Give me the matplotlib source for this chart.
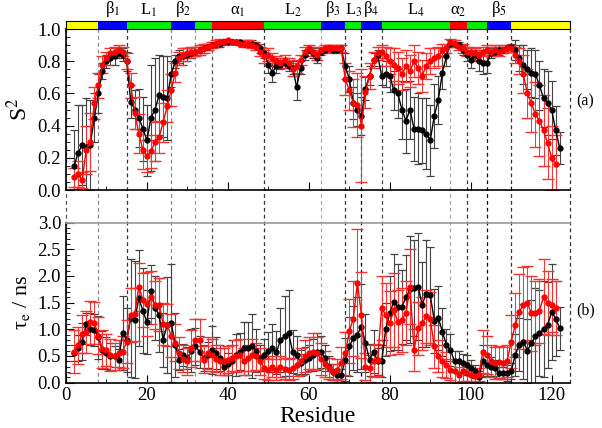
import matplotlib
matplotlib.use("Agg")
import matplotlib.pyplot as plt
import numpy as np
from matplotlib import transforms
from matplotlib.lines import Line2D
from matplotlib.ticker import MultipleLocator, FormatStrFormatter

plt.rcParams['font.family'] = ['Liberation Serif', 'DejaVu Serif']
plt.rcParams['mathtext.fontset'] = 'stix'

# номери залишків
res_black = np.arange(2, 123)
res_red = np.arange(2, 122)

# S^2, чорна серія
s2_black = [0.15, 0.23, 0.28, 0.27, 0.28, 0.45, 0.60, 0.74, 0.80, 0.82,
            0.83, 0.85, 0.84, 0.80, 0.55, 0.50, 0.45, 0.38, 0.31, 0.45,
            0.50, 0.59, 0.58, 0.57, 0.72, 0.80, 0.83, 0.83, 0.84, 0.85,
            0.86, 0.87, 0.88, 0.89, 0.90, 0.91, 0.91, 0.92, 0.92, 0.92,
            0.92, 0.92, 0.91, 0.91, 0.91, 0.90, 0.88, 0.85, 0.78, 0.73,
            0.77, 0.78, 0.79, 0.77, 0.76, 0.64, 0.76, 0.84, 0.87, 0.85,
            0.82, 0.86, 0.87, 0.88, 0.87, 0.87, 0.88, 0.77, 0.69, 0.54,
            0.50, 0.46, 0.63, 0.71, 0.81, 0.84, 0.71, 0.72, 0.71, 0.62,
            0.60, 0.50, 0.43, 0.50, 0.38, 0.38, 0.37, 0.35, 0.31, 0.46,
            0.56, 0.73, 0.83, 0.91, 0.91, 0.90, 0.87, 0.84, 0.81, 0.84,
            0.80, 0.79, 0.79, 0.85, 0.86, 0.87, 0.87, 0.88, 0.89, 0.87,
            0.82, 0.78, 0.75, 0.73, 0.72, 0.65, 0.57, 0.54, 0.50, 0.37,
            0.26]
s2_black_err = [0.22, 0.30, 0.25, 0.30, 0.28, 0.15, 0.12, 0.05, 0.04, 0.04,
                0.05, 0.03, 0.04, 0.06, 0.10, 0.12, 0.18, 0.20, 0.22, 0.33,
                0.32, 0.25, 0.25, 0.26, 0.08, 0.04, 0.04, 0.05, 0.04, 0.03,
                0.03, 0.03, 0.03, 0.02, 0.02, 0.02, 0.02, 0.01, 0.01, 0.01,
                0.01, 0.01, 0.01, 0.02, 0.02, 0.02, 0.03, 0.03, 0.05, 0.06,
                0.04, 0.03, 0.03, 0.03, 0.04, 0.08, 0.04, 0.03, 0.02, 0.03,
                0.03, 0.02, 0.02, 0.02, 0.02, 0.02, 0.02, 0.08, 0.08, 0.10,
                0.10, 0.12, 0.07, 0.06, 0.04, 0.03, 0.06, 0.08, 0.10, 0.12,
                0.15, 0.18, 0.20, 0.18, 0.20, 0.22, 0.20, 0.22, 0.22, 0.20,
                0.15, 0.10, 0.06, 0.02, 0.02, 0.02, 0.03, 0.04, 0.05, 0.04,
                0.06, 0.07, 0.06, 0.03, 0.03, 0.03, 0.02, 0.02, 0.02, 0.06,
                0.08, 0.12, 0.12, 0.15, 0.15, 0.15, 0.18, 0.20, 0.18, 0.15,
                0.10]

# S^2, червона серія
s2_red = [0.08, 0.10, 0.06, 0.25, 0.30, 0.54, 0.65, 0.78, 0.82, 0.85,
          0.86, 0.87, 0.86, 0.80, 0.65, 0.48, 0.35, 0.25, 0.21, 0.24,
          0.30, 0.33, 0.42, 0.52, 0.62, 0.73, 0.82, 0.84, 0.85, 0.86,
          0.86, 0.87, 0.88, 0.89, 0.90, 0.91, 0.92, 0.92, 0.93, 0.92,
          0.92, 0.91, 0.91, 0.91, 0.90, 0.89, 0.86, 0.83, 0.84, 0.82,
          0.80, 0.79, 0.81, 0.79, 0.75, 0.77, 0.81, 0.86, 0.88, 0.86,
          0.84, 0.87, 0.88, 0.88, 0.88, 0.88, 0.88, 0.69, 0.62, 0.54,
          0.53, 0.40, 0.61, 0.71, 0.81, 0.85, 0.86, 0.83, 0.80, 0.78,
          0.76, 0.72, 0.77, 0.74, 0.80, 0.76, 0.71, 0.77, 0.80, 0.82,
          0.83, 0.87, 0.88, 0.92, 0.91, 0.89, 0.88, 0.86, 0.86, 0.85,
          0.84, 0.86, 0.87, 0.86, 0.87, 0.86, 0.87, 0.88, 0.88, 0.84,
          0.80, 0.72, 0.60, 0.54, 0.47, 0.43, 0.37, 0.29, 0.20, 0.16]
s2_red_err = [0.06, 0.08, 0.05, 0.15, 0.18, 0.10, 0.08, 0.05, 0.04, 0.03,
              0.03, 0.03, 0.03, 0.05, 0.08, 0.10, 0.12, 0.12, 0.10, 0.10,
              0.12, 0.10, 0.12, 0.10, 0.10, 0.06, 0.04, 0.04, 0.03, 0.03,
              0.03, 0.03, 0.03, 0.02, 0.02, 0.02, 0.02, 0.01, 0.01, 0.01,
              0.01, 0.01, 0.02, 0.02, 0.02, 0.02, 0.03, 0.04, 0.04, 0.03,
              0.03, 0.03, 0.03, 0.03, 0.04, 0.04, 0.03, 0.03, 0.02, 0.03,
              0.03, 0.02, 0.02, 0.02, 0.02, 0.02, 0.02, 0.10, 0.12, 0.15,
              0.20, 0.35, 0.10, 0.08, 0.05, 0.04, 0.04, 0.06, 0.08, 0.10,
              0.10, 0.10, 0.10, 0.10, 0.10, 0.10, 0.10, 0.08, 0.08, 0.06,
              0.06, 0.04, 0.03, 0.02, 0.02, 0.02, 0.03, 0.03, 0.03, 0.03,
              0.03, 0.03, 0.03, 0.03, 0.03, 0.03, 0.02, 0.02, 0.02, 0.05,
              0.08, 0.12, 0.15, 0.18, 0.20, 0.22, 0.22, 0.22, 0.20, 0.18]

# tau_e, чорна серія
tau_black = [0.55, 0.65, 0.77, 1.10, 1.00, 0.99, 0.85, 0.61, 0.55, 0.49,
             0.49, 0.43, 0.93, 0.80, 1.21, 1.18, 1.58, 1.35, 1.13, 1.71,
             1.40, 1.27, 0.80, 1.08, 1.12, 0.70, 0.43, 0.52, 0.46, 0.60,
             0.68, 0.58, 0.46, 0.52, 0.61, 0.55, 0.46, 0.30, 0.35, 0.40,
             0.52, 0.58, 0.64, 0.64, 0.68, 0.60, 0.46, 0.52, 0.60, 0.64,
             0.57, 0.80, 0.87, 0.93, 0.58, 0.52, 0.37, 0.42, 0.46, 0.52,
             0.58, 0.58, 0.46, 0.30, 0.20, 0.14, 0.14, 0.43, 0.68, 0.83,
             0.90, 1.05, 0.74, 0.43, 0.58, 0.40, 0.40, 1.00, 1.30, 1.52,
             1.42, 1.42, 1.60, 1.75, 1.77, 1.80, 1.46, 1.67, 1.64, 1.16,
             1.22, 0.95, 0.71, 0.61, 0.40, 0.40, 0.36, 0.33, 0.27, 0.21,
             0.11, 0.40, 0.33, 0.30, 0.27, 0.18, 0.18, 0.18, 0.21, 0.52,
             0.71, 0.77, 0.60, 0.74, 0.87, 0.93, 1.00, 1.08, 1.33, 1.20,
             1.02]
tau_black_err = [0.15, 0.25, 0.35, 0.20, 0.30, 0.30, 0.40, 0.35, 0.30, 0.25,
                 0.20, 0.20, 0.70, 0.60, 1.10, 1.10, 0.90, 0.80, 0.60, 0.50,
                 0.60, 0.70, 0.50, 0.90, 1.10, 0.60, 0.20, 0.20, 0.20, 0.40,
                 0.35, 0.30, 0.25, 0.25, 0.45, 0.30, 0.25, 0.15, 0.20, 0.40,
                 0.40, 0.35, 0.50, 0.50, 0.60, 0.40, 0.25, 0.30, 0.35, 0.45,
                 0.40, 0.60, 0.75, 0.80, 0.40, 0.35, 0.25, 0.25, 0.25, 0.30,
                 0.35, 0.30, 0.25, 0.20, 0.15, 0.12, 0.12, 0.40, 0.55, 0.60,
                 0.70, 0.80, 0.55, 0.30, 0.40, 0.25, 0.30, 0.50, 0.70, 0.90,
                 0.80, 0.70, 0.80, 1.00, 0.90, 1.00, 0.80, 1.00, 0.90, 0.60,
                 0.60, 0.45, 0.30, 0.30, 0.20, 0.20, 0.18, 0.18, 0.15, 0.12,
                 0.10, 0.30, 0.20, 0.18, 0.15, 0.12, 0.12, 0.15, 0.15, 0.40,
                 0.50, 0.70, 0.60, 0.80, 0.90, 0.80, 0.90, 0.80, 0.90, 0.70,
                 0.40]

# tau_e, червона серія
tau_red = [0.58, 0.70, 0.91, 0.95, 1.13, 1.12, 0.88, 0.63, 0.61, 0.52,
           0.49, 0.55, 0.58, 0.77, 1.27, 1.28, 1.80, 1.55, 1.48, 1.60,
           1.46, 1.46, 1.10, 1.08, 0.88, 0.75, 0.55, 0.45, 0.40, 0.64,
           0.80, 0.80, 0.43, 0.55, 0.52, 0.45, 0.40, 0.40, 0.43, 0.46,
           0.50, 0.52, 0.40, 0.46, 0.52, 0.49, 0.40, 0.27, 0.24, 0.30,
           0.24, 0.30, 0.26, 0.24, 0.27, 0.33, 0.40, 0.49, 0.55, 0.58,
           0.55, 0.45, 0.35, 0.27, 0.20, 0.24, 0.36, 0.55, 0.96, 1.20,
           1.87, 1.27, 0.30, 0.27, 0.40, 0.43, 1.40, 1.27, 1.11, 1.36,
           1.14, 1.18, 1.30, 1.80, 0.61, 1.02, 1.11, 1.24, 1.20, 0.68,
           0.49, 0.40, 0.33, 0.24, 0.21, 0.14, 0.21, 0.18, 0.14, 0.12,
           0.15, 0.58, 0.52, 0.40, 0.36, 0.38, 0.36, 0.40, 0.77, 1.08,
           1.33, 1.46, 1.49, 1.30, 1.30, 1.35, 1.61, 1.49, 1.45, 1.40]
tau_red_err = [0.40, 0.35, 0.35, 0.40, 0.40, 0.40, 0.35, 0.35, 0.30, 0.30,
               0.25, 0.25, 0.30, 0.40, 0.50, 0.50, 0.45, 0.50, 0.60, 0.50,
               0.45, 0.50, 0.40, 0.40, 0.40, 0.35, 0.30, 0.25, 0.25, 0.35,
               0.40, 0.40, 0.25, 0.30, 0.30, 0.25, 0.25, 0.25, 0.25, 0.25,
               0.30, 0.30, 0.25, 0.25, 0.30, 0.25, 0.25, 0.20, 0.20, 0.20,
               0.20, 0.20, 0.20, 0.20, 0.20, 0.20, 0.25, 0.30, 0.30, 0.35,
               0.30, 0.30, 0.25, 0.20, 0.15, 0.20, 0.30, 0.40, 0.60, 0.70,
               1.00, 0.80, 0.25, 0.25, 0.30, 0.30, 0.60, 0.60, 0.60, 0.70,
               0.60, 0.60, 0.60, 0.70, 0.40, 0.50, 0.50, 0.50, 0.50, 0.40,
               0.30, 0.30, 0.25, 0.20, 0.20, 0.15, 0.18, 0.15, 0.12, 0.12,
               0.12, 0.40, 0.35, 0.30, 0.30, 0.30, 0.30, 0.30, 0.50, 0.60,
               0.70, 0.70, 0.70, 0.70, 0.60, 0.60, 0.70, 0.60, 0.50, 0.50]

# вторинна структура
seg_edges = [0, 8, 15, 26, 32, 36, 49, 63, 69, 73, 78, 95, 99, 104, 110, 124.5]
seg_colors = ['#ffff00', '#0000ff', '#00ee00', '#0000ff', '#00ee00', '#ff0000',
              '#00ee00', '#0000ff', '#00ee00', '#0000ff', '#00ee00', '#ff0000',
              '#00ee00', '#0000ff', '#ffff00']
seg_labels = ['', 'β$_1$', 'L$_1$', 'β$_2$', '', 'α$_1$',
              'L$_2$', 'β$_3$', 'L$_3$', 'β$_4$', 'L$_4$',
              'α$_2$', '', 'β$_5$', '']
line_colors = ['#555555', '#888888', '#333333', '#888888', '#999999', '#555555',
               '#333333', '#aaaaaa', '#333333', '#000000', '#444444', '#aaaaaa',
               '#333333', '#111111', '#333333', '#333333']

xmax = 124.5

fig = plt.figure(figsize=(6.02, 4.28), dpi=100)
ax_a = fig.add_axes([0.1096, 0.556, 0.837, 0.376])
ax_b = fig.add_axes([0.1096, 0.106, 0.837, 0.374])
ax_ss = fig.add_axes([0.1096, 0.9334, 0.837, 0.0175])

# смуга вторинної структури
widths = np.diff(seg_edges)
ax_ss.barh(0, widths, left=seg_edges[:-1], height=1, color=seg_colors,
           edgecolor='none')
ax_ss.set_xlim(0, xmax)
ax_ss.set_ylim(-0.5, 0.5)
ax_ss.set_xticks([])
ax_ss.set_yticks([])
for sp in ax_ss.spines.values():
    sp.set_linewidth(0.8)
blend = transforms.blended_transform_factory(ax_ss.transData, ax_ss.transAxes)
for i, lab in enumerate(seg_labels):
    if lab:
        xc = (seg_edges[i] + seg_edges[i + 1]) / 2
        ax_ss.text(xc, 1.25, lab, transform=blend, ha='center', va='bottom',
                   fontsize=12)

# пунктирні межі через обидві панелі
vblend = transforms.blended_transform_factory(ax_a.transData, fig.transFigure)
for xe, lc in zip(seg_edges, line_colors):
    fig.add_artist(Line2D([xe, xe], [0.106, 0.9334], transform=vblend,
                          color=lc, ls=(0, (3, 2.5)), lw=0.9, zorder=-1))

for ax in (ax_a, ax_b):
    ax.set_facecolor('none')

err_black = dict(fmt='-o', color='black', ms=3.5, lw=1.0, ecolor='#444444',
                 elinewidth=0.8, capsize=3, capthick=0.9)
err_red = dict(fmt='-o', color='red', ms=3.5, lw=1.0, ecolor='#ff3030',
               elinewidth=0.7, capsize=4.5, capthick=1.0)

ax_a.errorbar(res_black, s2_black, yerr=s2_black_err, **err_black)
ax_a.errorbar(res_red, s2_red, yerr=s2_red_err, **err_red)
ax_b.errorbar(res_black, tau_black, yerr=tau_black_err, **err_black)
ax_b.errorbar(res_red, tau_red, yerr=tau_red_err, **err_red)

ax_a.set_xlim(0, xmax)
ax_a.set_ylim(0, 1.0)
ax_b.set_xlim(0, xmax)
ax_b.set_ylim(0, 3.0)

ax_a.yaxis.set_major_locator(MultipleLocator(0.2))
ax_a.yaxis.set_minor_locator(MultipleLocator(0.05))
ax_b.yaxis.set_major_locator(MultipleLocator(0.5))
ax_b.yaxis.set_minor_locator(MultipleLocator(0.1))
for ax in (ax_a, ax_b):
    ax.xaxis.set_major_locator(MultipleLocator(20))
    ax.xaxis.set_minor_locator(MultipleLocator(10))
    ax.tick_params(which='both', direction='in', labelsize=13.5)
    ax.tick_params(which='major', length=6)
    ax.tick_params(which='minor', length=3)
    ax.spines['right'].set_visible(False)
    ax.spines['left'].set_linewidth(1.2)
    ax.spines['bottom'].set_linewidth(1.2)
    ax.yaxis.set_major_formatter(FormatStrFormatter('%.1f'))

ax_a.tick_params(labelbottom=False)
ax_a.spines['top'].set_visible(False)
ax_b.spines['top'].set_color('#999999')
ax_b.spines['top'].set_linewidth(1.2)

ax_a.set_ylabel('S$^2$', fontsize=17, labelpad=4)
ax_b.set_ylabel('τ$_\\mathrm{e}$ / ns', fontsize=16, labelpad=4)
ax_b.set_xlabel('Residue', fontsize=17, labelpad=1)

ax_a.text(1.031, 0.55, '(a)', transform=ax_a.transAxes, fontsize=11.5,
          ha='center', va='center')
ax_b.text(1.031, 0.45, '(b)', transform=ax_b.transAxes, fontsize=11.5,
          ha='center', va='center')

fig.savefig('out.png', dpi=100)
